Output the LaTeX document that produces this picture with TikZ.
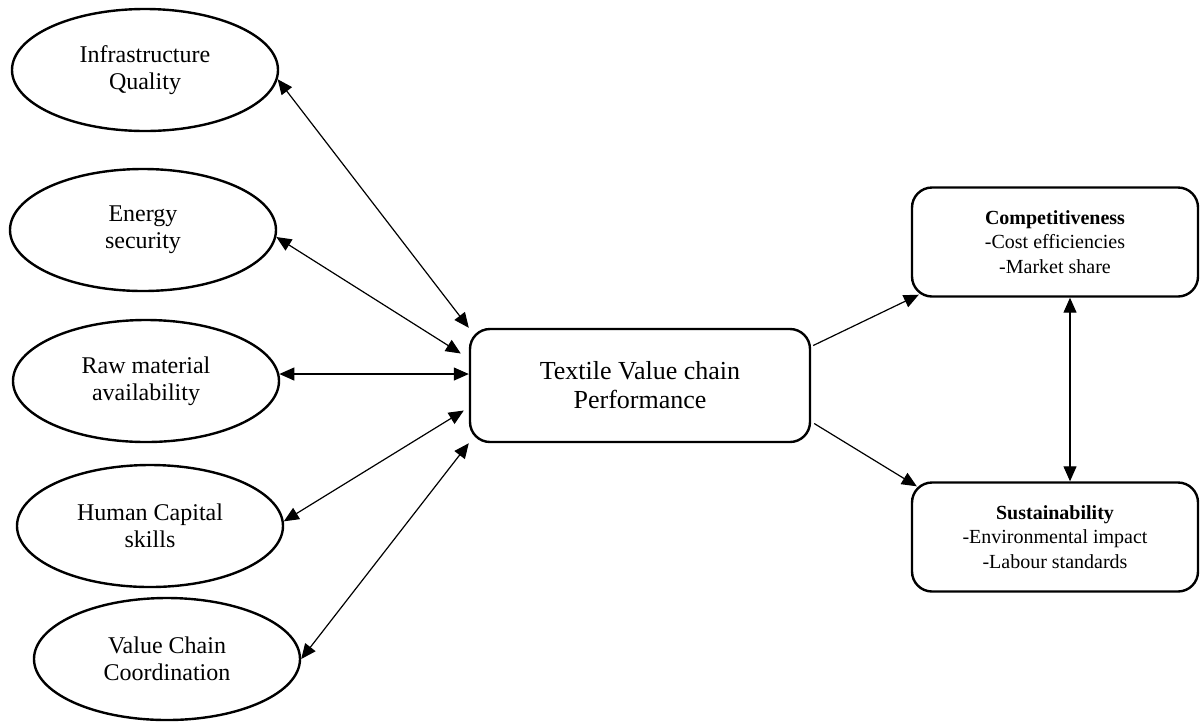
\documentclass[tikz,border=0pt]{standalone}
\usepackage{fontspec}
\setmainfont{Liberation Serif}
\usetikzlibrary{shapes.geometric,arrows.meta}

\tikzset{
	factor/.style={ellipse,draw,line width=1.2pt,inner sep=0pt,minimum width=133pt,minimum height=61pt,align=center,font=\fontsize{12}{13.5}\selectfont},
	perfbox/.style={rectangle,draw,rounded corners=10pt,line width=1.2pt,minimum width=170pt,minimum height=56.5pt,align=center,font=\fontsize{13}{14.5}\selectfont},
	outbox/.style={rectangle,draw,rounded corners=10pt,line width=1.2pt,minimum width=143pt,minimum height=54.5pt,align=center,font=\fontsize{10}{12.2}\selectfont},
	link/.style={<->,line width=0.6pt},
	flow/.style={->,line width=0.6pt}
}

\begin{document}
\begin{tikzpicture}[x=0.5pt,y=-0.5pt,>={Triangle[length=7.5pt,width=6.5pt]}]
	\useasboundingbox (0,0) rectangle (1202,724);
	% factors
	\node[factor] (infra) at (145,70) {Infrastructure\\Quality};
	\node[factor] (energy) at (143,230) {Energy\\security};
	\node[factor] (rawmat) at (146,381) {Raw material\\availability};
	\node[factor] (human) at (150,526) {Human Capital\\skills};
	\node[factor] (vcc) at (167,659) {Value Chain\\Coordination};
	% performance and outcomes
	\node[perfbox] (perf) at (640,385.5) {Textile Value chain\\Performance};
	\node[outbox] (comp) at (1055,242) {\textbf{Competitiveness}\\-Cost efficiencies\\-Market share};
	\node[outbox] (sust) at (1055,537) {\textbf{Sustainability}\\-Environmental impact\\-Labour standards};
	% connectors
	\draw[link] (infra.-4) -- (perf.north west);
	\draw[link] (energy.-3) -- ([shift={(-8,-32)}]perf.west);
	\draw[link] (rawmat.3) -- (rawmat.3 -| perf.west);
	\draw[link] (human.2) -- ([shift={(-5,25)}]perf.west);
	\draw[link] (vcc.east) -- (perf.south west);
	\draw[flow] ([shift={(2,-40)}]perf.east) -- ([shift={(8,-3)}]comp.south west);
	\draw[flow] ([shift={(3,38)}]perf.east) -- ([shift={(6,5)}]sust.north west);
	\draw[link] ([shift={(15,0)}]comp.south) -- ([shift={(15,0)}]sust.north);
\end{tikzpicture}
\end{document}
